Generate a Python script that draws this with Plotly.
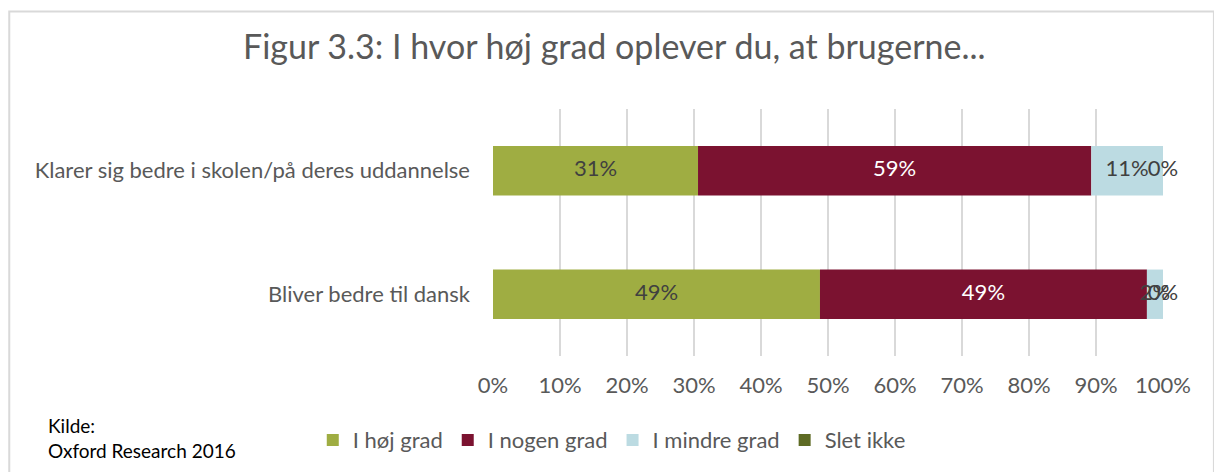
import plotly.graph_objects as go

categories = ["Bliver bedre til dansk", "Klarer sig bedre i skolen/på deres uddannelse"]
series_names = ["I høj grad", "I nogen grad", "I mindre grad", "Slet ikke"]
values = {
    "I høj grad": [48.8, 30.6],
    "I nogen grad": [48.8, 58.7],
    "I mindre grad": [2.4, 10.7],
    "Slet ikke": [0.0, 0.0],
}
colors = {
    "I høj grad": "#9fad42",
    "I nogen grad": "#7b1230",
    "I mindre grad": "#bcdbe2",
    "Slet ikke": "#5e6b24",
}
label_colors = {
    "I høj grad": "#404040",
    "I nogen grad": "#ffffff",
    "I mindre grad": "#404040",
    "Slet ikke": "#404040",
}
tick_vals = [0, 10, 20, 30, 40, 50, 60, 70, 80, 90, 100]
tick_text = [f"{v}%" for v in tick_vals]

FONT = "Lato"
fig = go.Figure()
cum = [0.0] * len(categories)
for name in series_names:
    vals = values[name]
    fig.add_trace(go.Bar(
        y=categories, x=vals, base=cum[:], orientation="h", name=name,
        marker=dict(color=colors[name], line=dict(width=0)),
        textposition="none", hoverinfo="skip",
    ))
    mids = [round(min(c + v / 2, 100.0), 6) for c, v in zip(cum, vals)]
    fig.add_trace(go.Scatter(
        y=categories, x=mids, mode="text",
        text=[f"{round(v):.0f}%" for v in vals],
        textfont=dict(family=FONT, size=22, color=label_colors[name]),
        showlegend=False, hoverinfo="skip", cliponaxis=False,
    ))
    cum = [round(c + v, 6) for c, v in zip(cum, vals)]

fig.update_layout(
    width=1214, height=472,
    margin=dict(l=493, r=51, t=109, b=115),
    paper_bgcolor="white", plot_bgcolor="white",
    barmode="overlay", bargap=0.6,
    title=dict(text="Figur 3.3: I hvor høj grad oplever du, at brugerne...",
               x=0.506, xanchor="center", y=0.9, yanchor="middle",
               font=dict(family=FONT, size=34, color="#595959")),
    xaxis=dict(range=[0, 100], tickvals=tick_vals, ticktext=tick_text,
               showgrid=True, gridcolor="#d9d9d9", gridwidth=2,
               zeroline=False, showline=False, ticks="", ticklabelstandoff=14,
               tickfont=dict(family=FONT, size=22, color="#595959")),
    yaxis=dict(showgrid=False, zeroline=False, showline=False, ticks="",
               ticklabelstandoff=22,
               tickfont=dict(family=FONT, size=22, color="#595959")),
    legend=dict(orientation="h", x=-0.269, xanchor="left", y=-0.335, yanchor="middle",
                font=dict(family=FONT, size=22, color="#595959"),
                traceorder="normal", itemwidth=30),
    showlegend=True,
)
fig.add_annotation(text="Kilde:<br>Oxford Research 2016", xref="paper", yref="paper",
                   x=-0.667, y=-0.33, xanchor="left", yanchor="middle", align="left",
                   showarrow=False, font=dict(family=FONT, size=19, color="#000000"))
fig.add_shape(type="rect", xref="paper", yref="paper", x0=-0.722, x1=1.076, y0=-0.6, y1=1.395,
              line=dict(color="#d9d9d9", width=2), fillcolor="rgba(0,0,0,0)", layer="below")
fig.write_html("out.html", post_script="document.body.style.margin='0';",
               config={"displayModeBar": False})
